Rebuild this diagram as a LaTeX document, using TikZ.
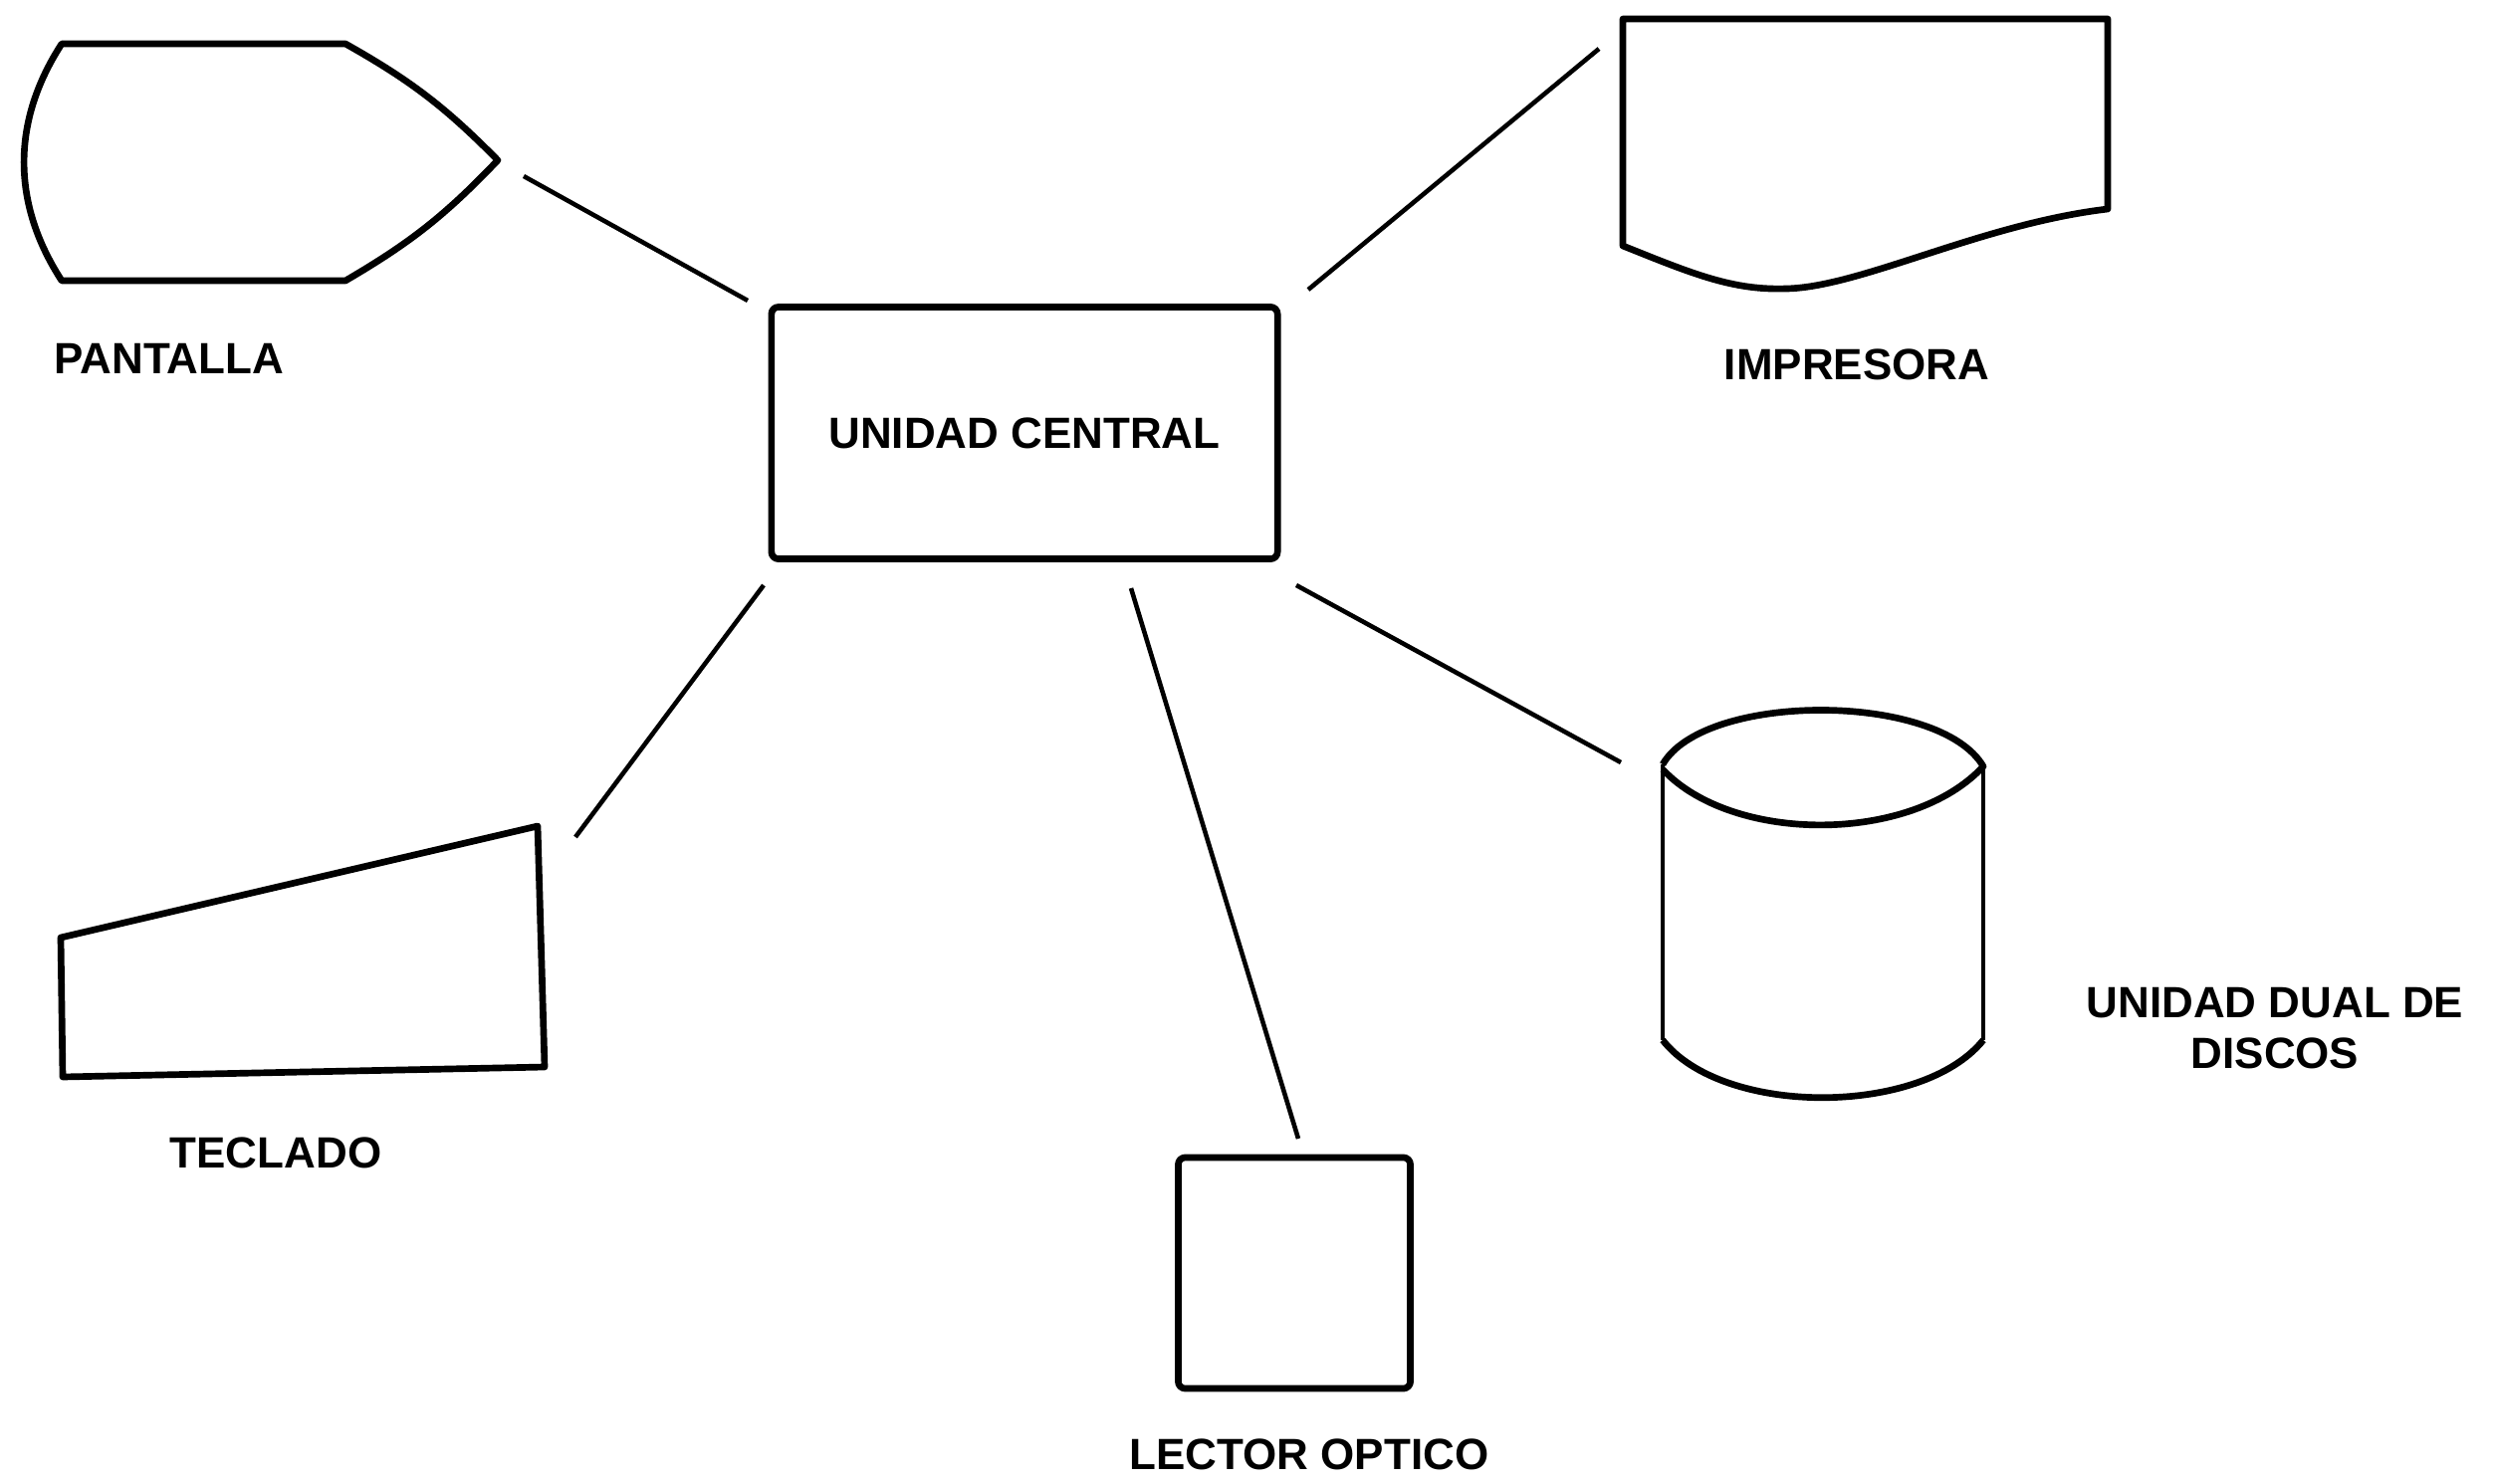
\documentclass[tikz,border=0pt]{standalone}
\usepackage{fontspec}
\setmainfont{Liberation Sans}
\newcommand{\lab}{\fontsize{12.5}{14.5}\selectfont\bfseries}
\tikzset{
  outline/.style={line width=1.9pt,line join=round},
  link/.style={line width=1.3pt},
  unit/.style={draw,outline,rounded corners=2pt,inner sep=0pt},
  lbl/.style={font=\lab,align=center}
}
\begin{document}
\begin{tikzpicture}[x=0.01cm,y=-0.01cm]
    \useasboundingbox (0,0) rectangle (2506,1491);

    % central unit
    \node[unit,lbl,minimum width=5.08cm,minimum height=2.53cm] (cpu) at (1029,435) {UNIDAD CENTRAL};

    % pantalla
    \draw[outline] (62,44) -- (347,44) to[bend left=8] (500,161) to[bend left=8] (347,282) -- (62,282) to[bend left=33] (62,44) -- cycle;
    \node[lbl] (pantalla) at (170,360) {PANTALLA};

    % impresora
    \draw[outline] (1630,247) -- (1630,19) -- (2117,19) -- (2117,210) .. controls (1990,225) and (1870,288) .. (1795,290) .. controls (1740,292) and (1700,275) .. (1630,247) -- cycle;
    \node[lbl] (impresora) at (1865,366) {IMPRESORA};

    % teclado
    \draw[outline] (61,942) -- (540,830) -- (547,1072) -- (63,1082) -- cycle;
    \node[lbl] (teclado) at (277,1158) {TECLADO};

    % lector optico
    \node[unit,minimum width=2.33cm,minimum height=2.32cm] (lector) at (1300,1279) {};
    \node[lbl] (lectorlbl) at (1315,1461) {LECTOR OPTICO};

    % unidad de discos
    \draw[outline,line width=1.4pt] (1670,768) -- (1670,1045);
    \draw[outline,line width=1.4pt] (1992,770) -- (1992,1045);
    \draw[outline] (1670,1045) .. controls (1730,1122) and (1930,1122) .. (1992,1045);
    \draw[outline] (1670,768) .. controls (1712,695) and (1948,695) .. (1992,770) .. controls (1920,848) and (1740,848) .. (1670,773);
    \node[lbl] (disco) at (2285,1033) {UNIDAD DUAL DE\\DISCOS};

    % connection points
    \coordinate (pan) at (526,177);
    \coordinate (cpu-nw) at (751,302);
    \coordinate (imp) at (1606,49);
    \coordinate (cpu-ne) at (1314,291);
    \coordinate (tec) at (578,841);
    \coordinate (cpu-sw) at (767,588);
    \coordinate (lec) at (1304,1144);
    \coordinate (cpu-s) at (1136,591);
    \coordinate (dis) at (1628,766);
    \coordinate (cpu-se) at (1302,588);

    \draw[link] (cpu-nw) -- (pan);
    \draw[link] (cpu-ne) -- (imp);
    \draw[link] (cpu-sw) -- (tec);
    \draw[link] (cpu-s) -- (lec);
    \draw[link] (cpu-se) -- (dis);
\end{tikzpicture}
\end{document}
